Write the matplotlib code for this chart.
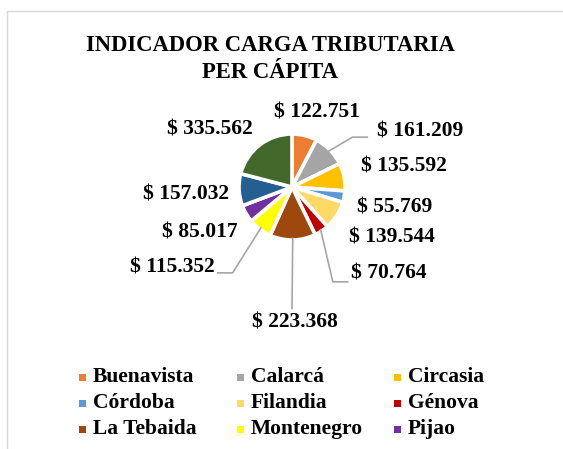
import matplotlib
matplotlib.use("Agg")
import matplotlib.pyplot as plt
import numpy as np
from matplotlib.patches import Rectangle

plt.rcParams["font.family"] = ["Liberation Serif", "DejaVu Serif"]
plt.rcParams["font.weight"] = "bold"

MUNICIPIOS = [
    "Buenavista", "Calarcá", "Circasia", "Córdoba", "Filandia", "Génova",
    "La Tebaida", "Montenegro", "Pijao", "Quimbaya", "Salento",
]
VALORES = [
    122751, 161209, 135592, 55769, 139544, 70764,
    223368, 115352, 85017, 157032, 335562,
]
COLORES = [
    "#ED7D31", "#A5A5A5", "#FFC000", "#5B9BD5", "#FFD966", "#C00000",
    "#9E480E", "#FFFF00", "#7030A0", "#255E91", "#43682B",
]
N_LEYENDA = 9  # the legend box only shows the first nine entries

# label centres, in pie-radius units
LABEL_POS = [
    (0.47, 1.40), (2.42, 1.04), (2.11, 0.38), (1.94, -0.38), (1.89, -0.96),
    (1.83, -1.64), (0.06, -2.55), (-2.26, -1.51), (-1.74, -0.85),
    (-2.0, -0.15), (-1.55, 1.08),
]
# slices with a leader line: index -> elbow point
LEADERS = {1: (1.14, 0.94), 5: (0.77, -1.79), 6: (0.0, -2.29), 7: (-1.12, -1.62)}

W, H = 563, 449
fig = plt.figure(figsize=(W / 100, H / 100), dpi=100)

# chart-area frame (cropped on right and bottom)
fig.add_artist(Rectangle((6.5 / W, -0.1), 1.2, 1 - 11.5 / H + 0.1,
                         transform=fig.transFigure, fill=False,
                         edgecolor="#D9D9D9", linewidth=1.0))

cx, cy, r = 292, 187, 53
ax = fig.add_axes([(cx - r) / W, (H - cy - r) / H, 2 * r / W, 2 * r / H])
wedges, _ = ax.pie(
    VALORES, colors=COLORES, startangle=90, counterclock=False,
    wedgeprops=dict(edgecolor="white", linewidth=2.6),
)
ax.set_xlim(-1, 1)
ax.set_ylim(-1, 1)
ax.set_aspect("equal")
ax.axis("off")

for i, (v, (lx, ly)) in enumerate(zip(VALORES, LABEL_POS)):
    txt = "$ " + f"{v:,}".replace(",", ".")
    ax.text(lx, ly, txt, ha="center", va="center", fontsize=15.5,
            fontweight="bold", clip_on=False)
    if i in LEADERS:
        w = wedges[i]
        ang = np.deg2rad((w.theta1 + w.theta2) / 2)
        x0, y0 = 0.97 * np.cos(ang), 0.97 * np.sin(ang)
        ex, ey = LEADERS[i]
        if i == 6:
            xs, ys = [x0, ex], [y0, ey]
        else:
            side = 1 if lx > 0 else -1
            xs = [x0, ex, ex + side * 0.28]
            ys = [y0, ey, ey]
        ax.plot(xs, ys, color="#A6A6A6", linewidth=1.2, clip_on=False)

fig.text(270 / W, 1 - 59 / H, "INDICADOR CARGA TRIBUTARIA\nPER CÁPITA",
         ha="center", va="center", fontsize=16.3, fontweight="bold",
         linespacing=1.32)

# legend laid out row by row, like Excel does
col_x = [79, 237, 394]
row_y = [377, 403, 429]
sq = 7
for k in range(N_LEYENDA):
    fila, col = divmod(k, 3)
    x, y = col_x[col], row_y[fila]
    fig.add_artist(Rectangle((x / W, (H - y - sq / 2) / H), sq / W, sq / H,
                             transform=fig.transFigure, facecolor=COLORES[k],
                             edgecolor="none"))
    fig.text((x + 14) / W, 1 - y / H, MUNICIPIOS[k], ha="left", va="center",
             fontsize=15.5, fontweight="bold")

fig.savefig("out.png", dpi=100)
